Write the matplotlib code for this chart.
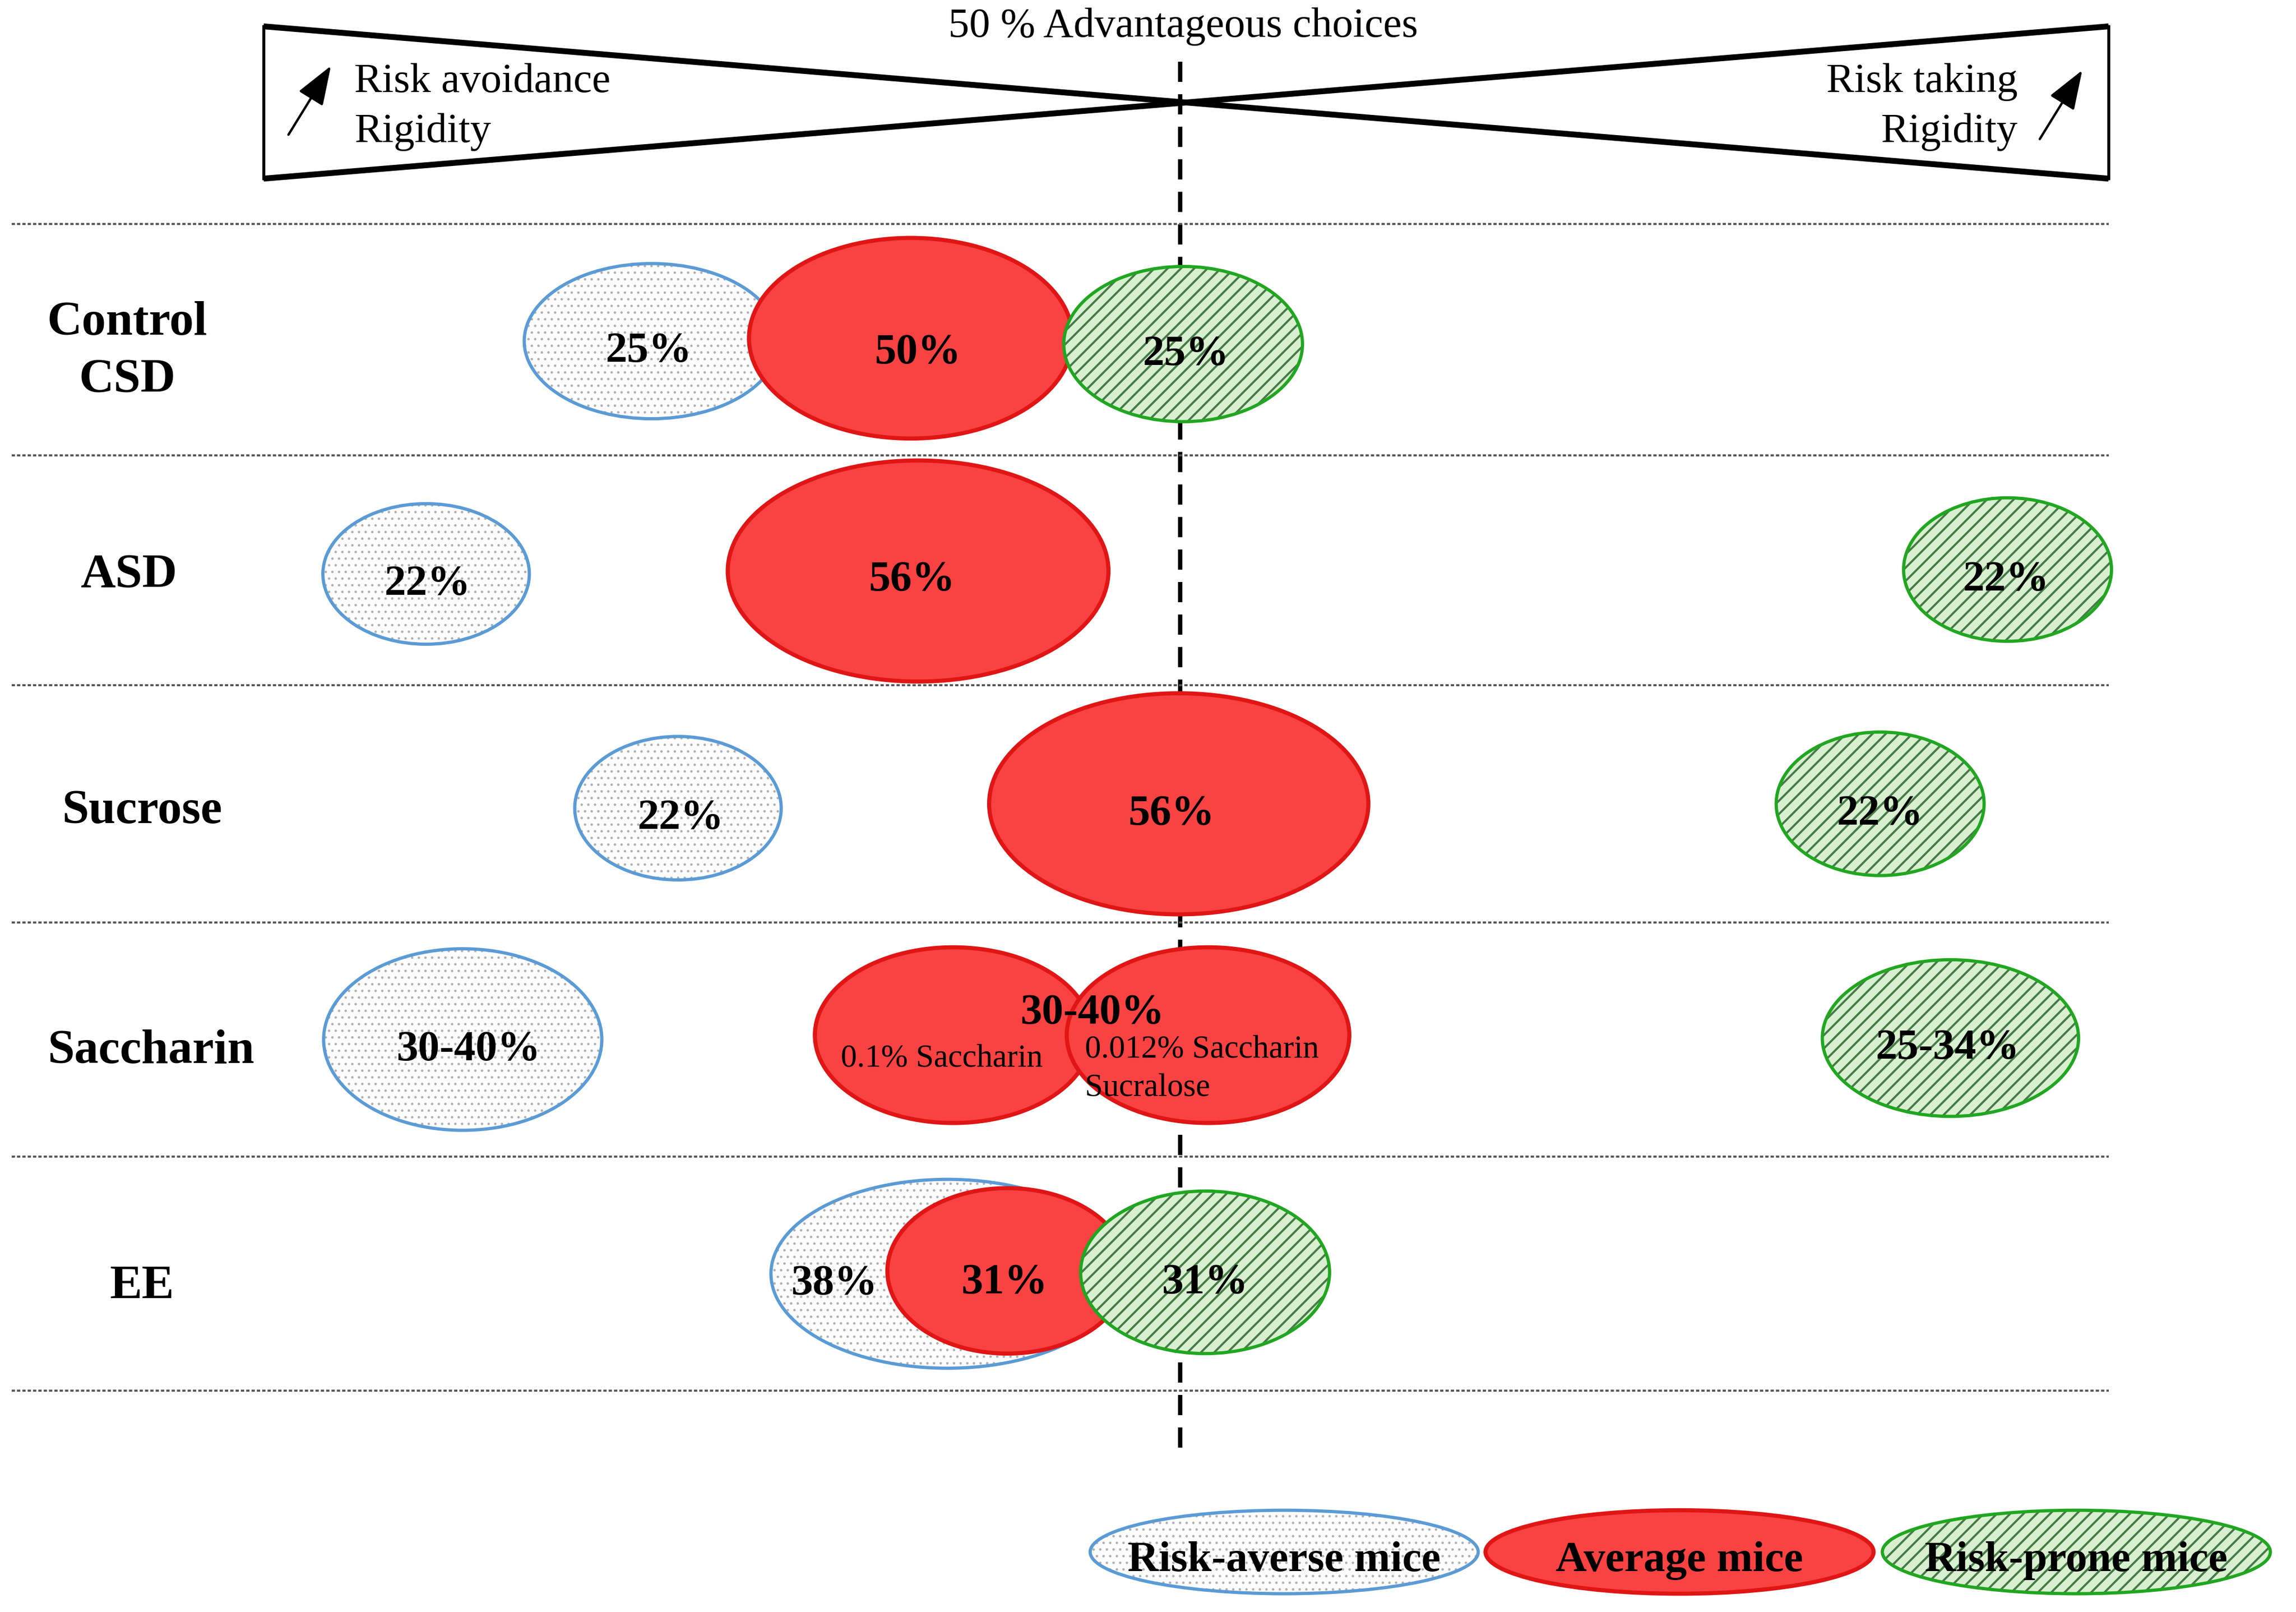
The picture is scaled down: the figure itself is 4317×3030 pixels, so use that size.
import matplotlib
matplotlib.use("Agg")
import matplotlib.pyplot as plt
from matplotlib.patches import Ellipse

plt.rcParams['font.family'] = ['Liberation Serif', 'DejaVu Serif']
plt.rcParams['hatch.linewidth'] = 1.5

# groups and percentages
groups = ['Control\nCSD', 'ASD', 'Sucrose', 'Saccharin', 'EE']
averse_labels = ['25%', '22%', '22%', '30-40%', '38%']
average_labels = ['50%', '56%', '56%', '30-40%', '31%']
prone_labels = ['25%', '22%', '22%', '25-34%', '31%']
saccharin_sub = ['0.1% Saccharin', '0.012% Saccharin', 'Sucralose']
legend_labels = ['Risk-averse mice', 'Average mice', 'Risk-prone mice']

# layout (units = pixels of a 1568 x 1101 canvas)
group_x = [87, 88, 97, 103, 97]
group_y = [238, 391, 552, 716, 877]

averse_cx = [445, 291, 463, 316, 647]
averse_cy = [233, 392, 552, 710, 870]
averse_w = [174, 141, 141, 190, 241]
averse_h = [106, 96, 98, 124, 129]
averse_tx = [443, 292, 465, 320, 570]

average_cx = [622, 627, 805, 651, 688]
average_cy = [231, 390, 549, 707, 868]
average_w = [221, 260, 259, 189, 164]
average_h = [137, 151, 151, 120, 113]
average_tx = [627, 623, 800, 746, 686]
average_ty = [237, 392, 552, 688, 872]

prone_cx = [808, 1371, 1284, 1332, 823]
prone_cy = [235, 389, 549, 709, 869]
prone_w = [163, 142, 142, 175, 170]
prone_h = [106, 98, 98, 107, 111]
prone_tx = [810, 1370, 1284, 1330, 823]

row_lines = [153, 311, 468, 630, 790, 950]
legend_cx = [877, 1147, 1418]

DPI = 150
W, H = 1568, 1101
S = 4317 / W * 72 / DPI   # canvas px -> points

RED, RED_EDGE = '#F94242', '#E01515'
BLUE_EDGE, BLUE_FILL, BLUE_DOT = '#5B9BD5', '#FCFCFC', '#B0B0B0'
GREEN_EDGE, GREEN_FILL, GREEN_HATCH = '#21A621', '#D8F0D0', '#477A47'

fig = plt.figure(figsize=(4317 / DPI, 3030 / DPI), dpi=DPI)
ax = fig.add_axes([0, 0, 1, 1])
ax.set_xlim(0, W)
ax.set_ylim(H, 0)
ax.axis('off')


def ellipse(cx, cy, w, h, kind, z):
    if kind == 'average':
        ax.add_patch(Ellipse((cx, cy), w, h, facecolor=RED, edgecolor=RED_EDGE,
                             lw=2.8 * S, zorder=z))
        return
    if kind == 'averse':
        fill, hcol, edge, hatch, hlw = BLUE_FILL, BLUE_DOT, BLUE_EDGE, '..', 1.0
    else:
        fill, hcol, edge, hatch, hlw = GREEN_FILL, GREEN_HATCH, GREEN_EDGE, '//', 1.9
    p = ax.add_patch(Ellipse((cx, cy), w, h, facecolor=fill, edgecolor=hcol,
                             hatch=hatch, lw=0, zorder=z))
    if hasattr(p, 'set_hatch_linewidth'):
        p.set_hatch_linewidth(hlw)
    ax.add_patch(Ellipse((cx, cy), w, h, facecolor='none', edgecolor=edge,
                         lw=2.2 * S, zorder=z + 0.1))


# bow-tie header
ax.plot([180, 1440], [18, 122], color='k', lw=4 * S, solid_capstyle='butt')
ax.plot([180, 1440], [122, 18], color='k', lw=4 * S, solid_capstyle='butt')
ax.plot([180, 180], [18, 122], color='k', lw=2 * S)
ax.plot([1440, 1440], [18, 122], color='k', lw=2 * S)
ax.text(808, 15, '50 % Advantageous choices', fontsize=28.5 * S,
        ha='center', va='center_baseline')
ax.text(242, 53, 'Risk avoidance', fontsize=28.5 * S, ha='left', va='center_baseline')
ax.text(242, 87, 'Rigidity', fontsize=28.5 * S, ha='left', va='center_baseline')
ax.text(1378, 53, 'Risk taking', fontsize=28.5 * S, ha='right', va='center_baseline')
ax.text(1378, 87, 'Rigidity', fontsize=28.5 * S, ha='right', va='center_baseline')
for x0, y0, x1, y1 in [(197, 92, 226, 45), (1393, 95, 1422, 48)]:
    ax.annotate('', xy=(x1, y1), xytext=(x0, y0),
                arrowprops=dict(arrowstyle='-|>,head_length=0.55,head_width=0.2',
                                color='k', lw=1.6 * S,
                                mutation_scale=42 * S, shrinkA=0, shrinkB=0))

# guide lines
ax.plot([806, 806], [42, 990], color='k', lw=3 * S, zorder=1,
        linestyle=(0, (4.6, 2.8)))
for y in row_lines:
    ax.plot([8, 1440], [y, y], color='#555555', lw=1.4 * S, zorder=1,
            linestyle=(0, (1.6, 1.0)))

# rows
for i, name in enumerate(groups):
    ax.text(group_x[i], group_y[i] + 2, name, fontsize=33 * S, fontweight='bold',
            ha='center', va='center', linespacing=1.4)
    ellipse(averse_cx[i], averse_cy[i], averse_w[i], averse_h[i], 'averse', 2)
    ellipse(average_cx[i], average_cy[i], average_w[i], average_h[i], 'average', 3)
    ellipse(prone_cx[i], prone_cy[i], prone_w[i], prone_h[i], 'prone', 5)
    ax.text(averse_tx[i], averse_cy[i] + 4, averse_labels[i], fontsize=29.5 * S,
            fontweight='bold', ha='center', va='center_baseline', zorder=10)
    ax.text(average_tx[i], average_ty[i] + 1, average_labels[i], fontsize=29.5 * S,
            fontweight='bold', ha='center', va='center_baseline', zorder=10)
    ax.text(prone_tx[i], prone_cy[i] + 4, prone_labels[i], fontsize=29.5 * S,
            fontweight='bold', ha='center', va='center_baseline', zorder=10)

# second saccharin group (0.012% saccharin / sucralose)
ellipse(825, 707, 193, 120, 'average', 4)
ax.text(643, 721, saccharin_sub[0], fontsize=22 * S, ha='center',
        va='center_baseline', zorder=10)
ax.text(741, 715, saccharin_sub[1], fontsize=22 * S, ha='left',
        va='center_baseline', zorder=10)
ax.text(741, 741, saccharin_sub[2], fontsize=22 * S, ha='left',
        va='center_baseline', zorder=10)

# legend
for cx, lab, kind in zip(legend_cx, legend_labels, ['averse', 'average', 'prone']):
    ellipse(cx, 1060, 265, 57, kind, 2)
    ax.text(cx, 1063, lab, fontsize=29.5 * S, fontweight='bold', ha='center',
            va='center_baseline', zorder=10)

fig.savefig('out.png', dpi=DPI, facecolor='white')
